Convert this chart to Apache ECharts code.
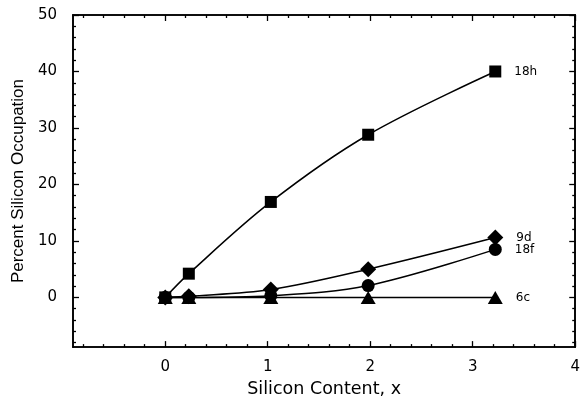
<!DOCTYPE html>
<html>
<head>
<meta charset="utf-8">
<script src="https://cdn.jsdelivr.net/npm/echarts@6/dist/echarts.min.js"></script>
<style>
  html, body { margin: 0; padding: 0; background: #fff; }
  #chart { width: 583px; height: 403px; }
</style>
</head>
<body>
<div id="chart"></div>
<script>
// Silicon content (x) for each sample
const siliconContent = [0, 0.23, 1.03, 1.98, 3.22];

// Percent silicon occupation per crystallographic site
const site18h = [0, 4.2, 16.9, 28.8, 40.0];
const site9d  = [0, 0.2, 1.4, 5.0, 10.6];
const site18f = [0, 0, 0.3, 2.1, 8.5];
const site6c  = [0, 0, 0, 0, 0];

const seriesNames = ['18h', '9d', '18f', '6c'];

// Axis ranges and tick positions
const xRange = [-0.9, 4];
const yRange = [-8.8, 50];
const xMajorTicks = [0, 1, 2, 3, 4];
const xMinorTicks = [-0.8, -0.6, -0.4, -0.2, 0.2, 0.4, 0.6, 0.8, 1.2, 1.4, 1.6, 1.8,
                     2.2, 2.4, 2.6, 2.8, 3.2, 3.4, 3.6, 3.8];
const yMajorTicks = [0, 10, 20, 30, 40, 50];
const yMinorTicks = [-8, -6, -4, -2, 2, 4, 6, 8, 12, 14, 16, 18, 22, 24, 26, 28,
                     32, 34, 36, 38, 42, 44, 46, 48];

const FONT = 'DejaVu Sans';
const INK = '#000';

function xAxisDef(position, ticks, len, labels) {
  return {
    type: 'value', position: position, min: xRange[0], max: xRange[1],
    name: labels ? 'Silicon Content, x' : '',
    nameLocation: 'middle', nameGap: 32,
    nameTextStyle: { fontFamily: FONT, fontSize: 17.5, color: INK },
    axisLine: { show: true, onZero: false, lineStyle: { color: INK, width: 1.6 } },
    axisTick: { show: true, inside: true, length: len, customValues: ticks,
                lineStyle: { color: INK, width: 1.3 } },
    axisLabel: labels
      ? { show: true, customValues: xMajorTicks, margin: 13, fontFamily: FONT, fontSize: 15, color: INK }
      : { show: false },
    splitLine: { show: false }
  };
}

function yAxisDef(position, ticks, len, labels) {
  return {
    type: 'value', position: position, min: yRange[0], max: yRange[1],
    name: labels ? 'Percent Silicon Occupation' : '',
    nameLocation: 'middle', nameGap: 43,
    nameTextStyle: { fontFamily: 'Liberation Sans', fontSize: 17, color: INK },
    axisLine: { show: true, onZero: false, lineStyle: { color: INK, width: 1.6 } },
    axisTick: { show: true, inside: true, length: len, customValues: ticks,
                lineStyle: { color: INK, width: 1.3 } },
    axisLabel: labels
      ? { show: true, customValues: yMajorTicks, margin: 16, fontFamily: FONT, fontSize: 15, color: INK }
      : { show: false },
    splitLine: { show: false }
  };
}

const symbols = {
  '18h': { symbol: 'rect', size: 12 },
  '9d':  { symbol: 'diamond', size: [16, 16] },
  '18f': { symbol: 'circle', size: 13 },
  '6c':  { symbol: 'triangle', size: [15, 13] }
};
const values = { '18h': site18h, '9d': site9d, '18f': site18f, '6c': site6c };

function makeSeries(name) {
  const vals = values[name];
  const data = siliconContent.map((x, i) => {
    const item = { value: [x, vals[i]] };
    if (i === vals.length - 1) {
      item.label = {
        show: true, position: 'right', distance: 13, formatter: name,
        fontFamily: FONT, fontSize: 12, color: INK
      };
    }
    return item;
  });
  return {
    name: name, type: 'line', xAxisIndex: 0, yAxisIndex: 0,
    data: data, smooth: name === '6c' ? false : 0.35,
    symbol: symbols[name].symbol, symbolSize: symbols[name].size,
    showAllSymbol: true,
    lineStyle: { color: INK, width: 1.5 },
    itemStyle: { color: INK },
    emphasis: { disabled: true },
    z: 3
  };
}

const chart = echarts.init(document.getElementById('chart'), null, { renderer: 'canvas' });
chart.setOption({
  animation: false,
  backgroundColor: '#fff',
  grid: { left: 73, right: 5, top: 15, bottom: 51, containLabel: false },
  xAxis: [
    xAxisDef('bottom', xMajorTicks, 6, true),
    xAxisDef('bottom', xMinorTicks, 3, false),
    xAxisDef('top', xMajorTicks, 6, false),
    xAxisDef('top', xMinorTicks, 3, false)
  ],
  yAxis: [
    yAxisDef('left', yMajorTicks, 6, true),
    yAxisDef('left', yMinorTicks, 3, false),
    yAxisDef('right', yMajorTicks, 6, false),
    yAxisDef('right', yMinorTicks, 3, false)
  ],
  series: seriesNames.map(makeSeries)
});
</script>
</body>
</html>
